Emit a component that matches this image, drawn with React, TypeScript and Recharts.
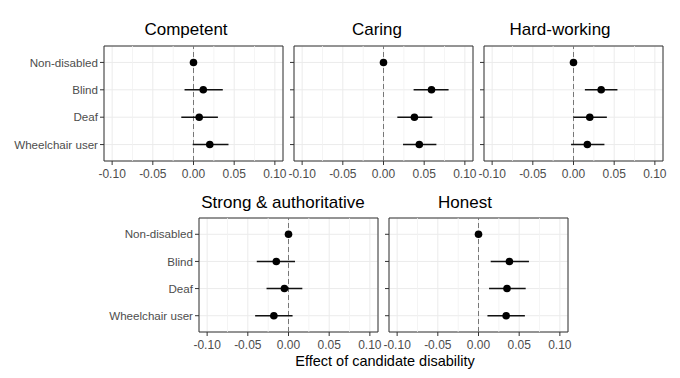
import { ScatterChart, Scatter, XAxis, YAxis, CartesianGrid, ReferenceLine, ReferenceArea, ErrorBar } from 'recharts'

const groups = ['Non-disabled', 'Blind', 'Deaf', 'Wheelchair user']
const xTicks = [-0.1, -0.05, 0, 0.05, 0.1]
const minorTicks = [-0.075, -0.025, 0.025, 0.075]

const competentEst = [0, 0.012, 0.007, 0.02]
const competentLow = [0, -0.011, -0.015, -0.001]
const competentHigh = [0, 0.036, 0.03, 0.043]

const caringEst = [0, 0.059, 0.038, 0.044]
const caringLow = [0, 0.037, 0.017, 0.024]
const caringHigh = [0, 0.08, 0.06, 0.065]

const hardEst = [0, 0.034, 0.02, 0.017]
const hardLow = [0, 0.014, 0, -0.003]
const hardHigh = [0, 0.054, 0.041, 0.038]

const strongEst = [0, -0.015, -0.005, -0.018]
const strongLow = [0, -0.039, -0.027, -0.041]
const strongHigh = [0, 0.008, 0.017, 0.005]

const honestEst = [0, 0.038, 0.035, 0.034]
const honestLow = [0, 0.015, 0.013, 0.011]
const honestHigh = [0, 0.062, 0.058, 0.057]

const FONT = '"Liberation Sans", Arial, sans-serif'
const TICK_COLOR = '#4d4d4d'

function XTick({ x, y, payload }: any) {
  return (
    <text x={x} y={y} dy="0.71em" textAnchor="middle" fontSize={12} fill={TICK_COLOR} fontFamily={FONT}>
      {Number(payload.value).toFixed(2)}
    </text>
  )
}

function YTick({ x, y, payload, show }: any) {
  if (!show) return <g />
  return (
    <text x={x} y={y} dy="0.355em" textAnchor="end" fontSize={11.6} fill={TICK_COLOR} fontFamily={FONT}>
      {groups[payload.value - 1]}
    </text>
  )
}

interface PanelProps {
  est: number[]
  low: number[]
  high: number[]
  x: number
  y: number
  w: number
  h: number
  showY: boolean
}

function Panel({ est, low, high, x, y, w, h, showY }: PanelProps) {
  const data = groups.map((g, i) => ({
    name: g,
    pos: i + 1,
    est: est[i],
    err: [est[i] - low[i], high[i] - est[i]],
  }))
  const yw = showY ? 104 : 20
  const xh = 24
  const right = 16
  return (
    <div style={{ position: 'absolute', left: x - yw, top: y - 1 }}>
      <ScatterChart width={yw + w + right} height={h + xh + 1} margin={{ top: 1, right, left: 0, bottom: 0 }}>
        <CartesianGrid stroke="#ebebeb" strokeWidth={1} />
        {minorTicks.map(t => (
          <ReferenceLine key={t} x={t} stroke="#f1f1f1" strokeWidth={0.8} />
        ))}
        <XAxis
          type="number"
          dataKey="est"
          domain={[-0.11, 0.11]}
          ticks={xTicks}
          allowDataOverflow
          tick={<XTick />}
          tickLine={{ stroke: '#333' }}
          tickSize={4}
          tickMargin={4.5}
          axisLine={false}
          height={xh}
          interval={0}
        />
        <YAxis
          type="number"
          dataKey="pos"
          domain={[0.4, 4.6]}
          ticks={[1, 2, 3, 4]}
          reversed
          width={yw}
          tick={<YTick show={showY} />}
          tickLine={{ stroke: '#333' }}
          tickSize={4}
          tickMargin={2}
          axisLine={false}
          interval={0}
        />
        <ReferenceLine x={0} stroke="#777" strokeDasharray="5 3" strokeWidth={1} />
        <ReferenceArea x1={-0.11} x2={0.11} y1={0.4} y2={4.6} fill="none" stroke="#333" strokeWidth={1} />
        <Scatter
          data={data}
          isAnimationActive={false}
          shape={(p: any) => <circle cx={p.cx} cy={p.cy} r={3.8} fill="#000" />}
        >
          <ErrorBar dataKey="err" direction="x" width={0} stroke="#111" strokeWidth={1.6} />
        </Scatter>
      </ScatterChart>
    </div>
  )
}

const titles = [
  { text: 'Competent', x: 186, y: 35 },
  { text: 'Caring', x: 377, y: 35 },
  { text: 'Hard-working', x: 560, y: 35 },
  { text: 'Strong & authoritative', x: 283, y: 208 },
  { text: 'Honest', x: 465, y: 208 },
]

export default function App() {
  return (
    <div style={{ position: 'absolute', left: 0, top: 0, width: 680, height: 378, background: '#fff', fontFamily: FONT }}>
      <svg width={680} height={378} style={{ position: 'absolute', left: 0, top: 0 }}>
        {titles.map(t => (
          <text key={t.text} x={t.x} y={t.y} textAnchor="middle" fontSize={17} fill="#000" fontFamily={FONT}>
            {t.text}
          </text>
        ))}
        <text x={385} y={366} textAnchor="middle" fontSize={14.5} fill="#000" fontFamily={FONT}>
          Effect of candidate disability
        </text>
      </svg>
      <Panel est={competentEst} low={competentLow} high={competentHigh} x={104} y={46} w={179} h={115} showY />
      <Panel est={caringEst} low={caringLow} high={caringHigh} x={294} y={46} w={179} h={115} showY={false} />
      <Panel est={hardEst} low={hardLow} high={hardHigh} x={484} y={46} w={179} h={115} showY={false} />
      <Panel est={strongEst} low={strongLow} high={strongHigh} x={199} y={218} w={179} h={114} showY />
      <Panel est={honestEst} low={honestLow} high={honestHigh} x={389} y={218} w={179} h={114} showY={false} />
    </div>
  )
}
